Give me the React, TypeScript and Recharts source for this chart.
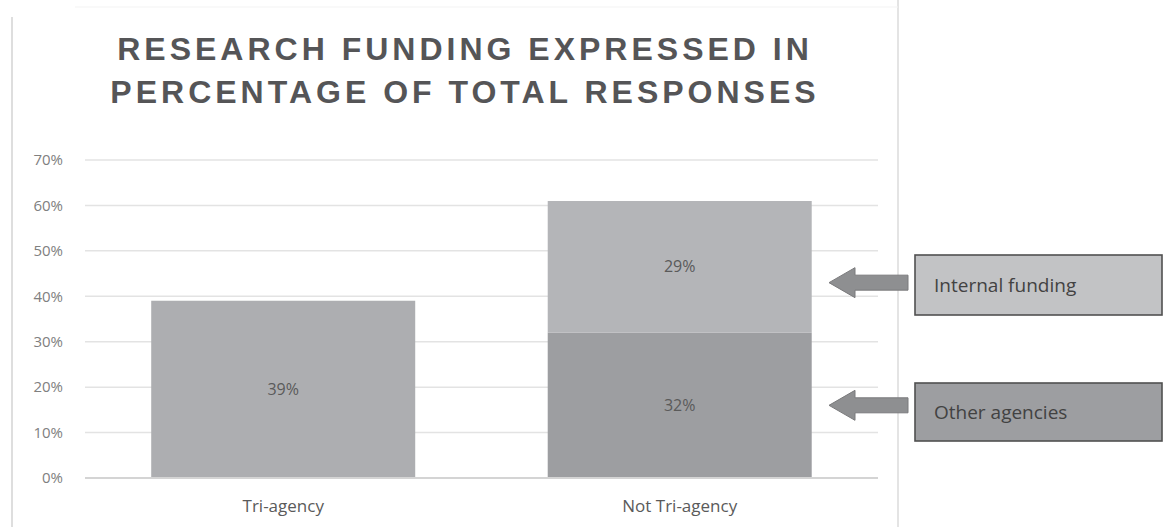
import React from "react";
import { BarChart, Bar, XAxis, YAxis, CartesianGrid, LabelList } from "recharts";

const categories = ["Tri-agency", "Not Tri-agency"];
const triAgency = [39, null];
const otherAgencies = [null, 32];
const internalFunding = [null, 29];
const yTicks = [0, 10, 20, 30, 40, 50, 60, 70];
const titleLines = ["RESEARCH FUNDING EXPRESSED IN", "PERCENTAGE OF TOTAL RESPONSES"];
const calloutLabels = ["Internal funding", "Other agencies"];
const calloutValues = [43, 16];

const W = 1169;
const H = 527;
const X_AXIS_H = 30;
const M = { top: 160, right: 291, bottom: 49 - X_AXIS_H, left: 0 };
const Y_AXIS_W = 85;
const Y_MAX = 70;

const data = categories.map((c, i) => ({
  name: c,
  tri: triAgency[i],
  other: otherAgencies[i],
  internal: internalFunding[i],
}));

const plotTop = M.top;
const plotBottom = H - M.bottom - X_AXIS_H;
const yOf = (v: number) => plotBottom - (v / Y_MAX) * (plotBottom - plotTop);

const fmt = (v: any) => (v === null || v === undefined || v === 0 ? "" : `${v}%`);

const calloutStyles = [
  { fill: "#c2c3c5", top: 255, bottom: 315 },
  { fill: "#9d9ea1", top: 383, bottom: 441 },
];

function Callouts() {
  return (
    <svg width={W} height={H} style={{ position: "absolute", left: 0, top: 0, pointerEvents: "none" }}>
      <line x1={12} y1={17} x2={12} y2={H} stroke="#dedede" strokeWidth={2} />
      <line x1={898} y1={0} x2={898} y2={H} stroke="#e4e4e4" strokeWidth={2} />
      <line x1={75} y1={7} x2={898} y2={7} stroke="#f3f3f3" strokeWidth={1} />
      {calloutLabels.map((label, i) => {
        const cy = yOf(calloutValues[i]);
        const tip = 829;
        const headBase = 855;
        const shaftEnd = 908;
        const hh = 15;
        const sh = 7.5;
        const pts = [
          [tip, cy],
          [headBase, cy - hh],
          [headBase, cy - sh],
          [shaftEnd, cy - sh],
          [shaftEnd, cy + sh],
          [headBase, cy + sh],
          [headBase, cy + hh],
        ]
          .map((p) => p.join(","))
          .join(" ");
        const st = calloutStyles[i];
        return (
          <g key={label}>
            <polygon points={pts} fill="#8e8f91" stroke="#7a7a7c" strokeWidth={1} />
            <rect
              x={915}
              y={st.top}
              width={247}
              height={st.bottom - st.top}
              fill={st.fill}
              stroke="#505050"
              strokeWidth={1.6}
            />
            <text
              x={934}
              y={(st.top + st.bottom) / 2}
              dominantBaseline="central"
              fontFamily="'Open Sans', sans-serif"
              fontSize={19}
              fill="#424242"
            >
              {label}
            </text>
          </g>
        );
      })}
    </svg>
  );
}

export default function App() {
  return (
    <div style={{ position: "absolute", left: 0, top: 0, width: W, height: H, background: "#fff" }}>
      <BarChart width={W} height={H} data={data} margin={M} barCategoryGap="16.7%">
        <text
          x={465}
          y={60}
          textAnchor="middle"
          fontFamily="'Liberation Sans', Arial, sans-serif"
          fontWeight="bold"
          fontSize={32}
          letterSpacing={4}
          fill="#555557"
        >
          {titleLines[0]}
        </text>
        <text
          x={465}
          y={103}
          textAnchor="middle"
          fontFamily="'Liberation Sans', Arial, sans-serif"
          fontWeight="bold"
          fontSize={32}
          letterSpacing={4}
          fill="#555557"
        >
          {titleLines[1]}
        </text>
        <CartesianGrid vertical={false} stroke="#e3e3e3" strokeWidth={1.5} />
        <XAxis
          dataKey="name"
          height={X_AXIS_H}
          axisLine={{ stroke: "#d4d4d4", strokeWidth: 2 }}
          tickLine={false}
          tickMargin={16}
          tick={{ fontFamily: "'Open Sans', sans-serif", fontSize: 17, fill: "#5a5a5a" }}
        />
        <YAxis
          width={Y_AXIS_W}
          domain={[0, Y_MAX]}
          ticks={yTicks}
          axisLine={false}
          tickLine={false}
          tickMargin={16}
          tickFormatter={(v: number) => `${v}%`}
          tick={{ fontFamily: "'Open Sans', sans-serif", fontSize: 15, fill: "#808080" }}
        />
        <Bar dataKey="tri" stackId="a" fill="#adaeb1" isAnimationActive={false}>
          <LabelList dataKey="tri" position="center" formatter={fmt} fill="#5a5a5a" fontSize={16} fontFamily="'Open Sans', sans-serif" />
        </Bar>
        <Bar dataKey="other" stackId="a" fill="#9d9ea1" isAnimationActive={false}>
          <LabelList dataKey="other" position="center" formatter={fmt} fill="#5a5a5a" fontSize={16} fontFamily="'Open Sans', sans-serif" />
        </Bar>
        <Bar dataKey="internal" stackId="a" fill="#b4b5b8" isAnimationActive={false}>
          <LabelList dataKey="internal" position="center" formatter={fmt} fill="#5a5a5a" fontSize={16} fontFamily="'Open Sans', sans-serif" />
        </Bar>
      </BarChart>
      <Callouts />
    </div>
  );
}
